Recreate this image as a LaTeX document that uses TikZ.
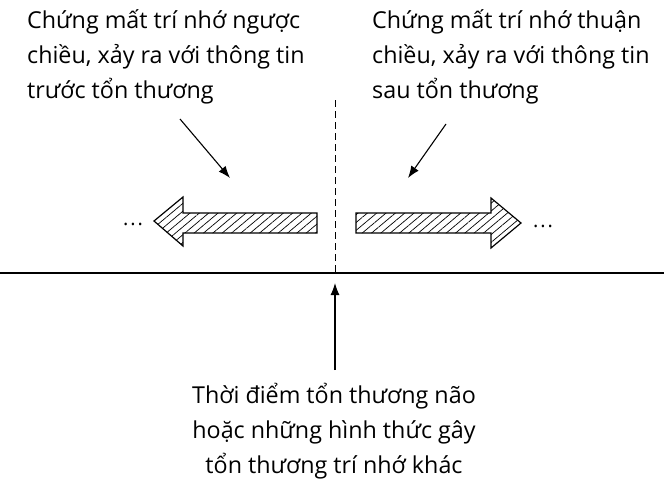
\documentclass[tikz,border=0pt]{standalone}
\usepackage{fontspec}
\setmainfont{Open Sans}
\usetikzlibrary{patterns.meta,arrows.meta}
\begin{document}
\begin{tikzpicture}[x=1pt,y=-1pt,
  lbl/.style={align=left,font=\fontsize{23.3}{35}\selectfont,inner sep=0pt},
  dots/.style={font=\fontsize{20}{20}\selectfont,inner sep=0pt},
  ptr/.style={-{Latex[length=12pt,width=9pt]},line width=1.1pt},
  hatched/.style={draw,line width=1.2pt,pattern={Lines[angle=40,distance=6pt,line width=0.7pt]}}]
\useasboundingbox (0,0) rectangle (664,490);
% texts
\node[lbl,anchor=base west] (tl) at (27,98) {Chứng mất trí nhớ ngược\\chiều, xảy ra với thông tin\\trước tổn thương};
\node[lbl,anchor=base west] (tr) at (372,98) {Chứng mất trí nhớ thuận\\chiều, xảy ra với thông tin\\sau tổn thương};
\node[lbl,align=center,anchor=base] (bt) at (334,473) {Thời điểm tổn thương não\\hoặc những hình thức gây\\tổn thương trí nhớ khác};
% baseline and divider
\coordinate (hl) at (0,273);
\coordinate (hr) at (664,273);
\draw[line width=1.3pt] (hl) -- (hr);
\coordinate (dt) at (335,100);
\coordinate (db) at (335,275);
\draw[dash pattern=on 7pt off 4pt,line width=1pt] (dt) -- (db);
% hatched arrows
\draw[hatched] (317,213) -- (183,213) -- (183,197) -- (154,221) -- (183,246) -- (183,233) -- (317,233) -- cycle;
\draw[hatched] (356,213) -- (491,213) -- (491,198) -- (521,223) -- (491,248) -- (491,233) -- (356,233) -- cycle;
\node[dots,anchor=base] (dl) at (133,225) {.\kern2pt.\kern2pt.};
\node[dots,anchor=base] (dr) at (543,227) {.\kern2pt.\kern2pt.};
% pointers
\coordinate (a1) at (180,119);
\coordinate (a2) at (230,178);
\draw[ptr] (a1) -- (a2);
\coordinate (b1) at (446,124);
\coordinate (b2) at (408,178);
\draw[ptr] (b1) -- (b2);
\coordinate (c1) at (335,370);
\coordinate (c2) at (335,283);
\draw[ptr] (c1) -- (c2);
\end{tikzpicture}
\end{document}
